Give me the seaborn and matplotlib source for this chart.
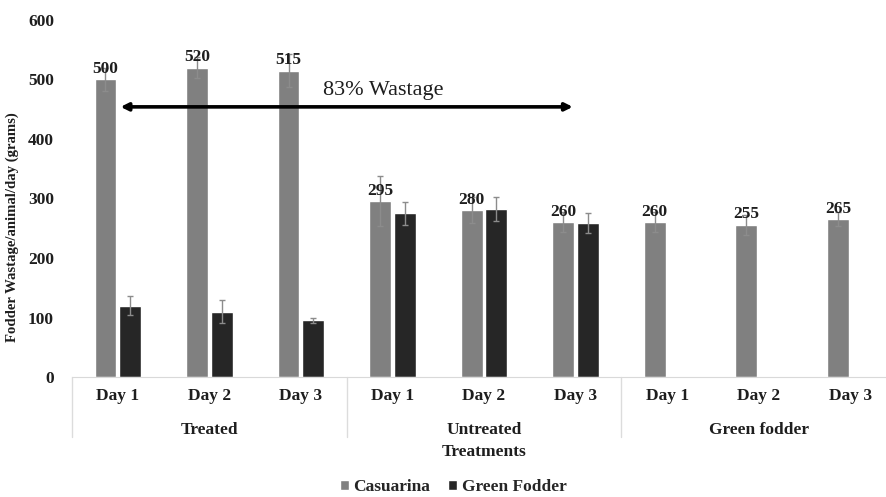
import matplotlib
matplotlib.use("Agg")
import matplotlib.pyplot as plt
import seaborn as sns
import numpy as np
import pandas as pd

# valores
groups = ["Treated", "Untreated", "Green fodder"]
days = ["Day 1", "Day 2", "Day 3"]
casuarina = [500, 520, 515, 295, 280, 260, 260, 255, 265]
casuarina_err = [20, 17, 28, 42, 22, 17, 17, 17, 12]
green_fodder = [120, 110, 95, 275, 282, 259, np.nan, np.nan, np.nan]
green_fodder_err = [16, 19, 4, 19, 20, 17, np.nan, np.nan, np.nan]
series = ["Casuarina", "Green Fodder"]

keys = [f"{g} {d}" for g in groups for d in days]
df = pd.DataFrame({
    "key": keys * 2,
    "serie": [series[0]] * 9 + [series[1]] * 9,
    "valor": casuarina + green_fodder,
    "erro": casuarina_err + green_fodder_err,
}).dropna()

sns.set_style("white")
plt.rcParams["font.family"] = ["Liberation Serif", "DejaVu Serif"]
txt = "#1e1e1e"

fig = plt.figure(figsize=(8.86, 4.97), dpi=100)
ax = fig.add_axes([72 / 886, 120 / 497, 824 / 886, 357 / 497])

sns.barplot(data=df, x="key", y="valor", hue="serie", order=keys, hue_order=series,
            palette=["#808080", "#262626"], width=0.54, gap=0.12, errorbar=None,
            saturation=1, ax=ax, legend=True)

# barras de erro e rótulos
for cont, serie in zip(ax.containers, series):
    sub = df[df["serie"] == serie]
    xs = [r.get_x() + r.get_width() / 2 for r in cont]
    ax.errorbar(xs, sub["valor"].values, yerr=sub["erro"].values, fmt="none",
                ecolor="#8c8c8c", elinewidth=1, capsize=2.5, capthick=1)
ax.bar_label(ax.containers[0], labels=[str(v) for v in casuarina], padding=2,
             fontsize=12.5, fontweight="bold", color=txt)

ax.set_ylim(0, 600)
ax.set_xlim(-0.5, 8.5)
ax.set_yticks(range(0, 601, 100))
ax.set_xticks(range(9))
ax.set_xticklabels(days * 3)
ax.tick_params(axis="y", length=0, labelsize=12.5, pad=13)
ax.tick_params(axis="x", length=0, pad=8, labelsize=12.5)
for t in ax.get_xticklabels() + ax.get_yticklabels():
    t.set_fontweight("bold")
    t.set_color(txt)

for s in ["top", "right", "left"]:
    ax.spines[s].set_visible(False)
ax.spines["bottom"].set_color("#d9d9d9")

ax.set_xlabel("")
ax.set_ylabel("Fodder Wastage/animal/day (grams)", fontsize=10.6, fontweight="bold",
              color=txt)
ax.yaxis.set_label_coords(-0.064, (377 - 227) / 357)

# separadores e nomes dos grupos
trans = ax.get_xaxis_transform()
for xs in [-0.5, 2.5, 5.5, 8.5]:
    ax.plot([xs, xs], [0, -0.168], transform=trans, color="#dcdcdc", lw=1, clip_on=False)
for i, g in enumerate(groups):
    ax.text(i * 3 + 1, -0.148, g, transform=trans, ha="center", va="center",
            fontsize=12.5, fontweight="bold", color=txt)
ax.text(4, -0.21, "Treatments", transform=trans, ha="center", va="center",
        fontsize=12.5, fontweight="bold", color=txt)

# seta de desperdício
ax.annotate("", xy=(0, 454), xytext=(5, 454),
            arrowprops=dict(arrowstyle="<|-|>", color="black", lw=2.6, mutation_scale=11))
ax.text(2.9, 482, "83% Wastage", ha="center", va="center", fontsize=16, color=txt)

handles, labels = ax.get_legend_handles_labels()
ax.get_legend().remove()
fig.legend(handles, labels, loc="center", bbox_to_anchor=(453 / 886, 1 - 487 / 497),
           ncol=2, frameon=False, handlelength=0.55, handleheight=0.55, handletextpad=0.25,
           columnspacing=1.0, prop={"weight": "bold", "size": 12.5})

plt.savefig("out.png", dpi=100)
